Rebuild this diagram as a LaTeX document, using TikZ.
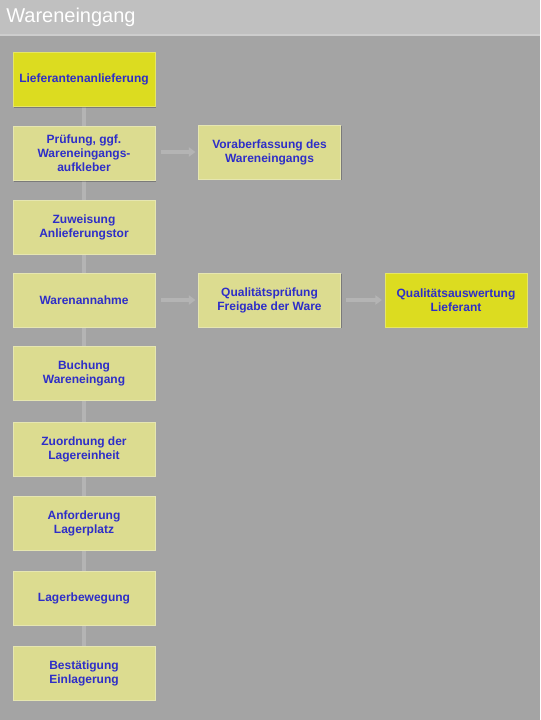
\documentclass[tikz,border=0pt]{standalone}
\usepackage{fontspec}
\setmainfont{Liberation Sans}
\usetikzlibrary{arrows.meta,backgrounds,shadows}

\definecolor{barbg}{HTML}{C0C0C0}
\definecolor{panelbg}{HTML}{A4A4A4}
\definecolor{hiyellow}{HTML}{DCDC20}
\definecolor{paleyellow}{HTML}{DCDC90}
\definecolor{boxtext}{HTML}{2E2EC8}
\definecolor{linkgrey}{HTML}{B4B4B4}

\tikzset{
  stepbox/.style={fill=paleyellow, draw=paleyellow!70!white, line width=0.6pt,
    minimum width=106.5pt, minimum height=40.5pt, inner sep=2pt,
    align=center, text=boxtext, font=\bfseries\fontsize{9}{10.5}\selectfont,
    drop shadow={shadow xshift=1pt, shadow yshift=-1pt, fill=black, opacity=.25}},
  hibox/.style={stepbox, fill=hiyellow, draw=hiyellow!70!white},
  link/.style={draw=linkgrey, line width=3.5pt},
  flow/.style={draw=linkgrey, line width=3pt, -{Triangle[width=7pt,length=5pt]}}
}

\begin{document}
\begin{tikzpicture}[x=0.75pt,y=-0.75pt]
    \useasboundingbox (0,0) rectangle (540,720);
    % boxes, left column
    \node[hibox]   (lief)  at (84,79.5)  {Lieferantenanlieferung};
    \node[stepbox] (pruef) at (84,153.5) {Prüfung, ggf.\\Wareneingangs-\\aufkleber};
    \node[stepbox] (tor)   at (84,227)   {Zuweisung\\Anlieferungstor};
    \node[stepbox] (annah) at (84,300)   {Warenannahme};
    \node[stepbox] (buch)  at (84,373)   {Buchung\\Wareneingang};
    \node[stepbox] (zuord) at (84,449)   {Zuordnung der\\Lagereinheit};
    \node[stepbox] (anfo)  at (84,523)   {Anforderung\\Lagerplatz};
    \node[stepbox] (beweg) at (84,598)   {Lagerbewegung};
    \node[stepbox] (best)  at (84,673)   {Bestätigung\\Einlagerung};
    % side steps
    \node[stepbox] (vorab) at (269.5,152) {Voraberfassung des\\Wareneingangs};
    \node[stepbox] (quali) at (269.5,300) {Qualitätsprüfung\\Freigabe der Ware};
    \node[hibox]   (ausw)  at (456,300)   {Qualitätsauswertung\\Lieferant};
    % title bar
    \fill[barbg] (0,0) rectangle (540,35);
    \draw[barbg!80!white, line width=1.5pt] (0,35) -- (540,35);
    \node[anchor=west, text=white, font=\fontsize{15}{18}\selectfont, inner sep=0pt] (title) at (6,17) {Wareneingang};
    \begin{scope}[on background layer]
      \fill[panelbg] (0,36) rectangle (540,720);
      \draw[link] (lief.south) -- (best.north);
    \end{scope}
    \draw[flow] ([xshift=4pt]pruef.east |- vorab.west) -- ([xshift=-2pt]vorab.west);
    \draw[flow] ([xshift=4pt]annah.east) -- ([xshift=-2pt]quali.west);
    \draw[flow] ([xshift=4pt]quali.east) -- ([xshift=-2pt]ausw.west);
\end{tikzpicture}
\end{document}
